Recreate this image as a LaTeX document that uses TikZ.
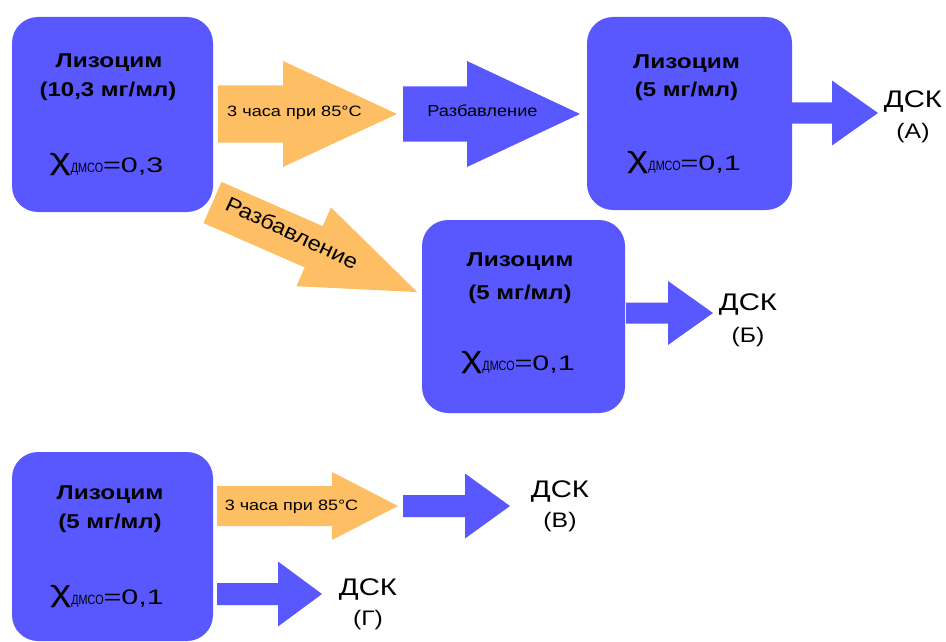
\documentclass[tikz,border=0pt]{standalone}
\usepackage{graphicx}
\usepackage{fontspec}
\setmainfont{Liberation Sans}
\definecolor{boxblue}{RGB}{89,88,255}
\definecolor{arrorange}{RGB}{253,190,100}
\newcommand\hs[2]{\scalebox{#1}[1]{#2}}
\newcommand\chiline[1]{\raisebox{3pt}{\hs{1.35}{\fontsize{30}{30}\selectfont χ}}\hs{0.8}{\fontsize{13.5}{13.5}\selectfont ДМСО}\hs{1.45}{\fontsize{21}{21}\selectfont =#1}}
% x0, xhead, xtip, ycentre, shaft half, head half, colour
\newcommand\blockarrow[7]{\fill[#7] (#1,{#4-#5}) -- (#2,{#4-#5}) -- (#2,{#4-#6}) -- (#3,#4) -- (#2,{#4+#6}) -- (#2,{#4+#5}) -- (#1,{#4+#5}) -- cycle;}
\begin{document}
\begin{tikzpicture}[x=1pt,y=-1pt,
  box/.style={fill=boxblue, rounded corners=26pt, inner sep=0pt, outer sep=0pt},
  title/.style={anchor=base, inner sep=0pt, font=\fontsize{20}{20}\bfseries\selectfont},
  chitext/.style={anchor=base, inner sep=0pt},
  arrtext/.style={anchor=base, inner sep=0pt, font=\fontsize{15}{15}\selectfont},
  dsk/.style={anchor=base, inner sep=0pt, font=\fontsize{24}{24}\selectfont},
  dskl/.style={anchor=base, inner sep=0pt, font=\fontsize{21}{21}\selectfont}]
\useasboundingbox (0,0) rectangle (946,642);
\clip (0,0) rectangle (946,642);
% boxes
\node[box, minimum width=201pt, minimum height=195pt] (b1) at (112.5,114.5) {};
\node[box, minimum width=205pt, minimum height=193pt] (b2) at (689.5,113.5) {};
\node[box, minimum width=203pt, minimum height=193pt] (b3) at (523.5,316.5) {};
\node[box, minimum width=201pt, minimum height=189pt] (b4) at (112.5,546.5) {};
% arrows
\blockarrow{218}{283}{397}{114}{28.5}{53}{arrorange}
\blockarrow{403}{467}{580}{114}{27.5}{53}{boxblue}
\blockarrow{792}{832}{878}{113}{10.5}{32.5}{boxblue}
\blockarrow{626}{668}{713}{313}{10.5}{32}{boxblue}
\blockarrow{217}{332}{398}{506}{20}{34}{arrorange}
\blockarrow{403}{465}{510}{506}{11}{32.5}{boxblue}
\blockarrow{217}{278}{322}{594}{11}{32.5}{boxblue}
\begin{scope}[shift={(212.5,202.5)}, rotate=-23.63]
\blockarrow{0}{110.5}{223.5}{0}{22.5}{43}{arrorange}
\end{scope}
% box texts
\node[title] (b1t) at (109,67) {\hs{1.22}{Лизоцим}};
\node[title] (b1c) at (108,97) {\hs{1.2}{(10,3 мг/мл)}};
\node[chitext] (b1x) at (106.5,172) {\chiline{0,3}};
\node[title] (b2t) at (686.5,68.5) {\hs{1.22}{Лизоцим}};
\node[title] (b2c) at (686.5,97) {\hs{1.2}{(5 мг/мл)}};
\node[chitext] (b2x) at (684,170) {\chiline{0,1}};
\node[title] (b3t) at (520,266.5) {\hs{1.22}{Лизоцим}};
\node[title] (b3c) at (520,299.5) {\hs{1.2}{(5 мг/мл)}};
\node[chitext] (b3x) at (518,370) {\chiline{0,1}};
\node[title] (b4t) at (110,499.5) {\hs{1.22}{Лизоцим}};
\node[title] (b4c) at (110,528.5) {\hs{1.2}{(5 мг/мл)}};
\node[chitext] (b4x) at (107,604) {\chiline{0,1}};
% arrow texts
\node[arrtext] (t1) at (294.5,116.5) {\hs{1.21}{3 часа при 85°C}};
\node[arrtext, font=\fontsize{16}{16}\selectfont] (t2) at (482.5,116.5) {\hs{1.14}{Разбавление}};
\node[arrtext] (t3) at (291.5,510.5) {\hs{1.2}{3 часа при 85°C}};
\node[inner sep=0pt, rotate=-25, font=\fontsize{21}{21}\selectfont] (t4) at (292,232.5) {\hs{1.13}{Разбавление}};
% DSK labels
\node[dsk] (dA) at (913,107) {\hs{1.22}{ДСК}};
\node[dskl] (lA) at (913,139) {\hs{1.18}{(А)}};
\node[dsk] (dB) at (748,310) {\hs{1.22}{ДСК}};
\node[dskl] (lB) at (748,342) {\hs{1.18}{(Б)}};
\node[dsk] (dV) at (560,497) {\hs{1.22}{ДСК}};
\node[dskl] (lV) at (560,527) {\hs{1.18}{(В)}};
\node[dsk] (dG) at (368,595) {\hs{1.22}{ДСК}};
\node[dskl] (lG) at (368,625) {\hs{1.18}{(Г)}};
\end{tikzpicture}
\end{document}
